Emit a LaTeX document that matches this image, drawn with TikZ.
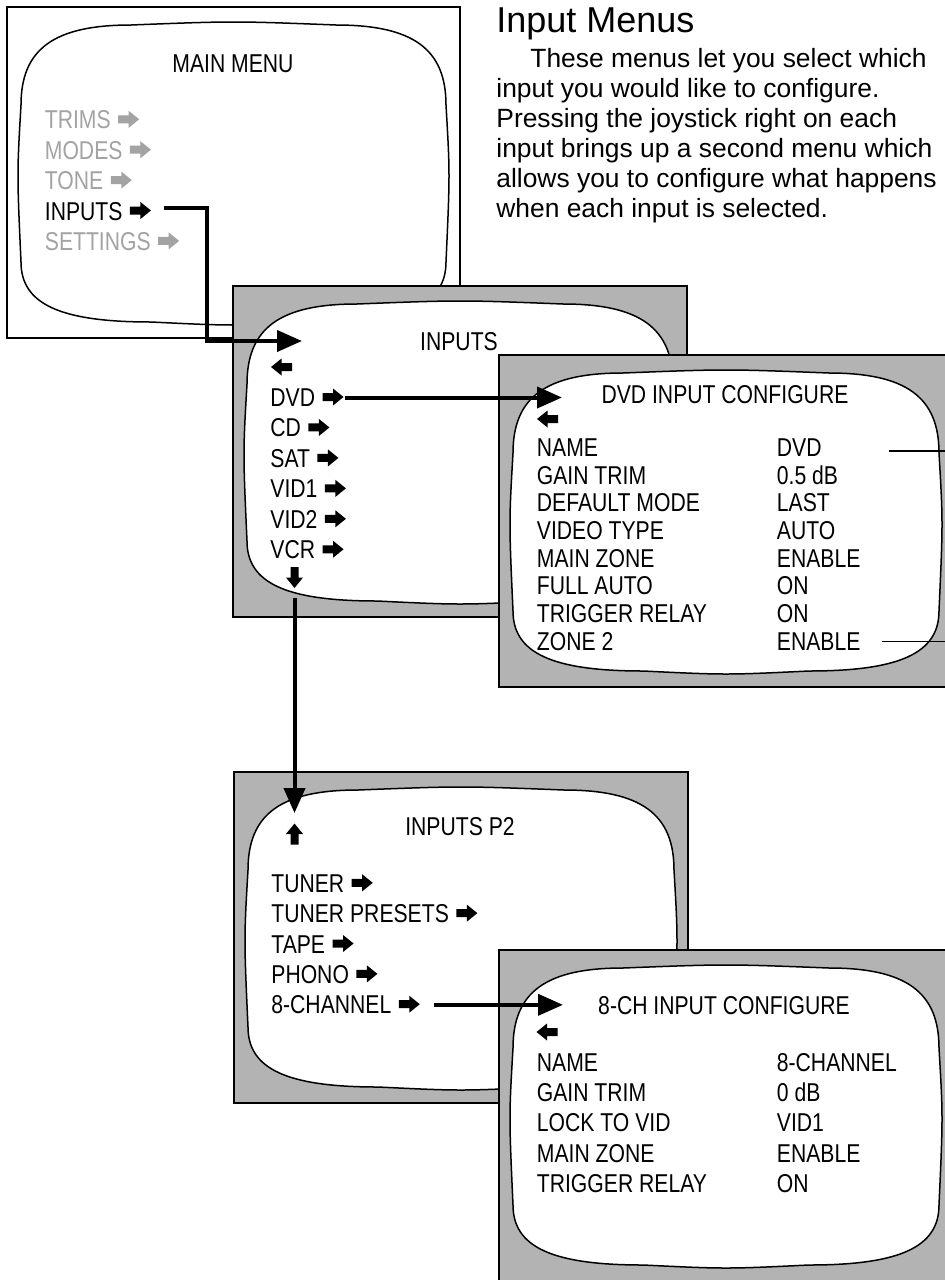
\documentclass[tikz,border=0pt]{standalone}
\usepackage{fontspec}
\setmainfont{Liberation Sans}
\newfontfamily\menufont[FakeStretch=0.82]{Liberation Sans}
\usetikzlibrary{
  arrows.meta,
  positioning
}
\definecolor{mnFrame}{HTML}{B3B3B3}
\definecolor{mnDim}{HTML}{A3A3A3}
\newcommand\menuarrow[2][black]{\tikz[x=0.5pt,y=0.5pt,baseline=-4.75pt]\fill[fill=#1,rotate=#2] (-10.5,-4) -- (0,-4) -- (0,-8.5) -- (10.5,0) -- (0,8.5) -- (0,4) -- (-10.5,4) -- cycle;}
\newcommand\goright[1][black]{\hspace{0.8pt}\menuarrow[#1]{0}}
\newcommand\goleft[1][black]{\menuarrow[#1]{180}}
\newcommand\goup[1][black]{\menuarrow[#1]{90}}
\newcommand\godown[1][black]{\menuarrow[#1]{-90}}
\newcommand\crt[5]{%
  \draw[#1] (#2,#3) rectangle (#4,#5);
  \pgfmathsetmacro\sx{#2+14}\pgfmathsetmacro\sy{#3+18}%
  \pgfmathsetmacro\ex{#4-14}\pgfmathsetmacro\ey{#5-16}%
  \pgfmathsetmacro\mx{(\sx+\ex)/2}\pgfmathsetmacro\my{(\sy+\ey)/2}%
  \draw[screen] ({\sx+110},{\sy})
    .. controls ({\mx},{\sy-4}) .. ({\ex-110},{\sy})
    .. controls ({\ex-33},{\sy}) and ({\ex},{\sy+24}) .. ({\ex},{\sy+80})
    .. controls ({\ex+4},{\my}) .. ({\ex},{\ey-60})
    .. controls ({\ex},{\ey-18}) and ({\ex-39},{\ey}) .. ({\ex-130},{\ey})
    .. controls ({\mx},{\ey+4}) .. ({\sx+130},{\ey})
    .. controls ({\sx+39},{\ey}) and ({\sx},{\ey-18}) .. ({\sx},{\ey-60})
    .. controls ({\sx-4},{\my}) .. ({\sx},{\sy+80})
    .. controls ({\sx},{\sy+24}) and ({\sx+33},{\sy}) .. cycle;
}
\tikzset{
  crtframe/.style={draw=black, line width=0.75pt, fill=mnFrame},
  screen/.style={draw=black, line width=0.75pt, fill=white},
  menuitem/.style={font=\menufont\fontsize{12.9pt}{15pt}\selectfont, inner sep=0pt, anchor=base west},
  menutitle/.style={menuitem, anchor=base},
  glyph/.style={inner sep=0pt},
  link/.style={line width=2pt, -{Triangle[length=12.5pt,width=10.5pt]}},
  leader/.style={line width=0.6pt},
  heading/.style={font=\fontsize{18pt}{21pt}\selectfont, inner sep=0pt, anchor=base west},
  blurb/.style={font=\fontsize{13.2pt}{15pt}\selectfont, align=left, inner sep=0pt, anchor=north west}
}

\begin{document}
\begin{tikzpicture}[x=0.5pt, y=-0.5pt]
  \useasboundingbox (0,0) rectangle (945,1280);
  \fill[white] (0,0) rectangle (945,1280);

  \node[heading] (heading) at (496,32) {Input Menus};
  \node[blurb] (blurb) at (496,48.2) {\hspace*{17pt}These menus let you select which\\
    input you would like to configure.\\
    Pressing the joystick right on each\\
    input brings up a second menu which\\
    allows you to configure what happens\\
    when each input is selected.};

  \crt{crtframe, fill=white}{7}{7}{460}{338}
  \node[menutitle] (mainTitle) at (233,72) {MAIN MENU};
  \foreach \nm/\txt/\col [count=\i from 0] in {trims/TRIMS/mnDim, modes/MODES/mnDim, tone/TONE/mnDim, inputs/INPUTS/black, settings/SETTINGS/mnDim}
    \node[menuitem, text=\col] (\nm) at (44.5,{128.8+30.4*\i}) {\txt\ \goright[\col]};

  \crt{crtframe}{233}{286}{687}{617}
  \node[menutitle] (inputsTitle) at (459,350) {INPUTS};
  \node[glyph] (inpBack) at (281.5,367.5) {\goleft};
  \foreach \nm/\txt [count=\i from 0] in {dvd/DVD, cd/CD, sat/SAT, vidA/VID1, vidB/VID2, vcr/VCR}
    \node[menuitem] (\nm) at (270,{406.5+30.45*\i}) {\txt\ \goright};
  \node[glyph] (inpMore) at (294.5,577.5) {\godown};
  \coordinate (inputsIn) at (302,341);
  \draw[link] ([xshift=6.5pt,yshift=1.5pt]inputs.east) -- ++(21.5pt,0) |- (inputsIn);

  \crt{crtframe}{499}{355}{953}{687}
  \node[menutitle] (dvdTitle) at (725,403) {DVD INPUT CONFIGURE};
  \node[glyph] (dvdBack) at (547.5,419.5) {\goleft};
  \foreach \txt/\val [count=\i from 0] in {NAME/DVD, GAIN TRIM/0.5 dB, DEFAULT MODE/LAST, VIDEO TYPE/AUTO, MAIN ZONE/ENABLE, FULL AUTO/ON, TRIGGER RELAY/ON, ZONE 2/ENABLE}{
    \node[menuitem] (dvdKey\i) at (536.5,{456.3+27.7*\i}) {\txt};
    \node[menuitem] (dvdVal\i) at (776.5,{456.3+27.7*\i}) {\val};
  }
  \coordinate (rim) at (950,0);
  \draw[leader] ([xshift=33.5pt,yshift=-1.8pt]dvdVal0.east) -- ([yshift=-1.8pt]dvdVal0.east -| rim);
  \draw[leader] ([xshift=10.5pt]dvdVal7.east) -- (dvdVal7.east -| rim);
  \coordinate (dvdIn) at (562,397);
  \draw[link] ([xshift=0.5pt]dvd.east) -- (dvd.east -| dvdIn);

  \crt{crtframe}{234}{772}{688}{1103}
  \node[menutitle] (ptwoTitle) at (460,835) {INPUTS P2};
  \node[glyph] (ptwoBack) at (294.5,834) {\goup};
  \foreach \nm/\txt [count=\i from 0] in {tuner/TUNER, presets/TUNER PRESETS, tape/TAPE, phono/PHONO, eightch/8-CHANNEL}
    \node[menuitem] (\nm) at (271,{892.3+30.35*\i}) {\txt\ \goright};
  \draw[link] ([yshift=-5pt]inpMore.south) -- ([yshift=5pt]ptwoBack.north);

  \crt{crtframe}{499}{950}{953}{1281}
  \node[menutitle] (chTitle) at (724,1014) {8-CH INPUT CONFIGURE};
  \node[glyph] (chBack) at (547,1032.5) {\goleft};
  \foreach \txt/\val [count=\i from 0] in {NAME/8-CHANNEL, GAIN TRIM/0 dB, LOCK TO VID/VID1, MAIN ZONE/ENABLE, TRIGGER RELAY/ON}{
    \node[menuitem] (chKey\i) at (536.5,{1071.3+30.3*\i}) {\txt};
    \node[menuitem] (chVal\i) at (776.5,{1071.3+30.3*\i}) {\val};
  }
  \coordinate (chIn) at (563,1005);
  \draw[link] ([xshift=7pt]eightch.east) -- (eightch.east -| chIn);
\end{tikzpicture}
\end{document}
